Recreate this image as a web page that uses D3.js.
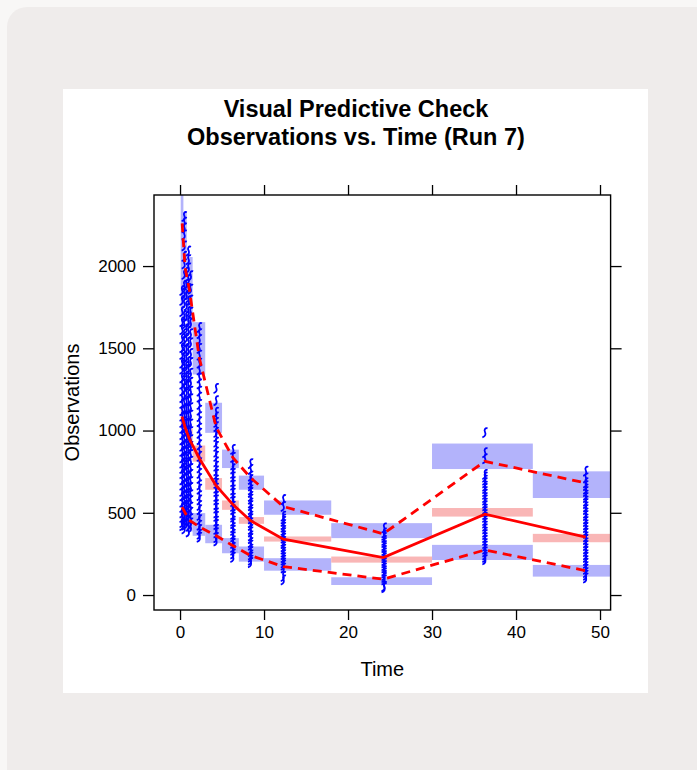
<!DOCTYPE html>
<html>
<head>
<meta charset="utf-8">
<script src="https://cdn.jsdelivr.net/npm/d3@7/dist/d3.min.js"></script>
<style>
html, body { margin: 0; padding: 0; background: #f8f7f6; }
svg { display: block; font-family: "Liberation Sans", Arial, sans-serif; }
</style>
</head>
<body>
<svg id="chart" width="697" height="770"></svg>
<script>
// tick labels
const xTicks = [0, 10, 20, 30, 40, 50];
const yTicks = [0, 500, 1000, 1500, 2000];

// time bins and simulated prediction intervals (5th, median, 95th)
const binStart = [0.08, 0.4, 0.8, 1.5, 3, 5, 7, 10, 18, 30, 42];
const binEnd   = [0.4, 0.8, 1.5, 3, 5, 7, 10, 18, 30, 42, 56];
const hiPILow  = [1700, 1800, 1620, 1341, 986, 772, 640, 488, 346, 766, 590];
const hiPIHigh = [2600, 2330, 2055, 1659, 1169, 884, 726, 575, 437, 921, 752];
const medPILow = [1010, 960, 900, 811, 640, 518, 433, 325, 197, 477, 321];
const medPIHigh= [1150, 1080, 1010, 909, 711, 575, 474, 356, 234, 529, 372];
const loPILow  = [420, 400, 386, 360, 315, 254, 203, 148, 61, 213, 112];
const loPIHigh = [520, 520, 500, 498, 427, 346, 295, 224, 108, 305, 183];

// observed percentiles per bin
const lineTimes = [0.25, 0.6, 1.1, 2.3, 4.3, 6.3, 8.4, 12.3, 24.2, 36.3, 48.3];
const obsP95    = [2260, 1990, 1860, 1440, 1020, 835, 713, 538, 372, 813, 681];
const obsMedian = [1085, 1020, 950, 830, 665, 550, 452, 340, 228, 492, 352];
const obsP5     = [535, 500, 455, 415, 360, 300, 240, 173, 96, 274, 148];

// observations, by nominal sampling time
const obsTimes = [0.25, 0.5, 0.75, 1.0, 1.25, 2.3, 4.3, 6.3, 8.4, 12.3, 24.3, 36.3, 48.3];
const obsValues = [
  [1850, 1790, 1722, 1660, 1612, 1558, 1503, 1461, 1409, 1372, 1318, 1281, 1240, 1198, 1163, 1119, 1086, 1048, 1012, 973, 941, 903, 872, 833, 801, 768, 737, 698, 667, 628, 602, 563, 531, 498, 471, 439, 421],
  [2300, 2266, 2231, 2188, 2121, 2058, 2012, 1948, 1882, 1829, 1771, 1698, 1646, 1588, 1541, 1489, 1447, 1398, 1352, 1301, 1254, 1216, 1168, 1131, 1089, 1052, 1013, 982, 944, 912, 873, 842, 803, 771, 738, 706, 668, 641, 603, 577, 543, 516, 483, 457, 424, 401],
  [1962, 1888, 1821, 1758, 1692, 1618, 1562, 1497, 1442, 1388, 1331, 1279, 1232, 1178, 1131, 1088, 1042, 998, 961, 918, 882, 838, 801, 758, 722, 683, 652, 613, 582, 543, 512, 478, 452, 431],
  [2090, 2038, 1987, 1918, 1862, 1788, 1722, 1658, 1601, 1538, 1482, 1419, 1371, 1318, 1272, 1219, 1177, 1128, 1087, 1038, 997, 953, 917, 873, 837, 793, 757, 718, 687, 648, 617, 578, 547, 508, 482, 448, 417, 382],
  [1940, 1858, 1792, 1718, 1652, 1588, 1532, 1468, 1412, 1348, 1292, 1238, 1192, 1138, 1092, 1038, 992, 943, 902, 853, 812, 768, 732, 688, 652, 608, 572, 533, 502, 463, 437, 409],
  [1625, 1588, 1552, 1498, 1457, 1408, 1367, 1318, 1282, 1238, 1202, 1158, 1122, 1083, 1052, 1013, 982, 943, 912, 873, 842, 803, 772, 738, 707, 668, 642, 603, 577, 543, 517, 483, 457, 423, 397, 368, 350],
  [1255, 1180, 1110, 1082, 1048, 1022, 988, 962, 928, 902, 868, 842, 808, 782, 753, 732, 698, 677, 648, 627, 598, 577, 548, 527, 498, 477, 448, 427, 398, 377, 348, 327],
  [884, 835, 790, 766, 738, 717, 688, 667, 638, 617, 588, 567, 538, 517, 488, 472, 448, 432, 408, 392, 368, 352, 328, 312, 288, 272, 248, 228],
  [797, 762, 722, 701, 678, 662, 638, 622, 598, 582, 558, 542, 518, 502, 478, 462, 438, 422, 398, 382, 358, 342, 318, 302, 278, 263, 243, 229, 211, 196],
  [579, 537, 478, 461, 446, 427, 411, 392, 378, 359, 344, 325, 311, 292, 277, 259, 244, 226, 211, 194, 181, 163, 112, 91],
  [407, 376, 361, 348, 330, 317, 299, 286, 269, 255, 238, 225, 207, 194, 177, 163, 146, 133, 117, 105, 91, 51, 43],
  [986, 864, 827, 732, 716, 697, 681, 661, 646, 627, 611, 591, 576, 557, 541, 521, 506, 487, 471, 451, 436, 417, 401, 381, 366, 347, 331, 311, 296, 277, 261, 242, 227, 213],
  [752, 711, 681, 663, 643, 627, 606, 591, 570, 554, 534, 518, 497, 481, 461, 445, 425, 409, 389, 373, 352, 336, 316, 299, 279, 263, 243, 227, 207, 191, 171, 155, 135, 119, 102]
];

const svg = d3.select("#chart");

// page card and white figure area
svg.append("rect").attr("x", 7).attr("y", 7).attr("width", 720).attr("height", 800)
  .attr("rx", 20).attr("fill", "#efeceb");
svg.append("rect").attr("x", 63).attr("y", 89).attr("width", 585).attr("height", 604)
  .attr("fill", "#ffffff");

const plot = { left: 154, right: 610.6, top: 195, bottom: 610 };

const x = d3.scaleLinear().domain([-3.1, 51.26]).range([plot.left, plot.right]);
const y = d3.scaleLinear().domain([-91, 2432]).range([plot.bottom, plot.top]);

svg.append("clipPath").attr("id", "clip")
  .append("rect")
  .attr("x", plot.left).attr("y", plot.top)
  .attr("width", plot.right - plot.left).attr("height", plot.bottom - plot.top);

const g = svg.append("g").attr("clip-path", "url(#clip)");

const bins = binStart.map((s, i) => ({
  x0: s, x1: binEnd[i],
  hi: [hiPILow[i], hiPIHigh[i]],
  med: [medPILow[i], medPIHigh[i]],
  lo: [loPILow[i], loPIHigh[i]]
}));

// prediction interval boxes
function bands(key, color) {
  g.selectAll(".band-" + key)
    .data(bins)
    .enter()
    .append("rect")
    .attr("class", "band-" + key)
    .attr("x", d => x(d.x0))
    .attr("width", d => x(d.x1) - x(d.x0))
    .attr("y", d => y(d[key][1]))
    .attr("height", d => y(d[key][0]) - y(d[key][1]))
    .attr("fill", color);
}
bands("hi", "#b3b3fb");
bands("lo", "#b3b3fb");
bands("med", "#f9b6b6");

// observations
const pts = [];
obsTimes.forEach((t, i) => obsValues[i].forEach(v => pts.push({ t: t, v: v })));

g.selectAll(".obs")
  .data(pts)
  .enter()
  .append("path")
  .attr("class", "obs")
  .attr("transform", d => `translate(${x(d.t)},${y(d.v)})`)
  .attr("d", "M2.6,-4.5 C0.3,-5.5 -1,-3 0,-1 C1,1 0.8,3.6 -2.6,4.5")
  .attr("fill", "none")
  .attr("stroke", "#0000ff")
  .attr("stroke-width", 1.8);

// observed percentile lines
const line = d3.line().x(d => x(d[0])).y(d => y(d[1]));
function obsLine(vals, dashed) {
  g.append("path")
    .datum(lineTimes.map((t, i) => [t, vals[i]]))
    .attr("d", line)
    .attr("fill", "none")
    .attr("stroke", "#ff0000")
    .attr("stroke-width", 2.8)
    .attr("stroke-dasharray", dashed ? "9,6" : null);
}
obsLine(obsMedian, false);
obsLine(obsP95, true);
obsLine(obsP5, true);

// axes, lattice style: ticks outside on every side
const tickFont = 17;
svg.append("g").attr("transform", `translate(${plot.left},0)`)
  .call(d3.axisLeft(y).tickValues(yTicks).tickFormat(d3.format("d")).tickSize(11).tickPadding(7));
svg.append("g").attr("transform", `translate(0,${plot.bottom})`)
  .call(d3.axisBottom(x).tickValues(xTicks).tickFormat(d3.format("d")).tickSize(10).tickPadding(6));
svg.append("g").attr("transform", `translate(${plot.right},0)`)
  .call(d3.axisRight(y).tickValues(yTicks).tickSize(11).tickFormat(""));
svg.append("g").attr("transform", `translate(0,${plot.top})`)
  .call(d3.axisTop(x).tickValues(xTicks).tickSize(10).tickFormat(""));

svg.selectAll(".domain").remove();
svg.selectAll(".tick line").attr("stroke", "#000").attr("stroke-width", 1.3);
svg.selectAll(".tick text")
  .attr("fill", "#000")
  .style("font-size", tickFont + "px")
  .style("font-family", "Liberation Sans, Arial, sans-serif");

svg.append("rect")
  .attr("x", plot.left).attr("y", plot.top)
  .attr("width", plot.right - plot.left).attr("height", plot.bottom - plot.top)
  .attr("fill", "none").attr("stroke", "#000").attr("stroke-width", 1.4);

// titles
svg.append("text").attr("x", 356).attr("y", 117).attr("text-anchor", "middle")
  .style("font-size", "23.5px").style("font-weight", "bold")
  .text("Visual Predictive Check");
svg.append("text").attr("x", 356).attr("y", 145).attr("text-anchor", "middle")
  .style("font-size", "23.5px").style("font-weight", "bold")
  .text("Observations vs. Time (Run 7)");

svg.append("text").attr("x", (plot.left + plot.right) / 2).attr("y", 676)
  .attr("text-anchor", "middle").style("font-size", "20px")
  .text("Time");
svg.append("text")
  .attr("transform", `translate(79,${(plot.top + plot.bottom) / 2}) rotate(-90)`)
  .attr("text-anchor", "middle").style("font-size", "20px")
  .text("Observations");
</script>
</body>
</html>
